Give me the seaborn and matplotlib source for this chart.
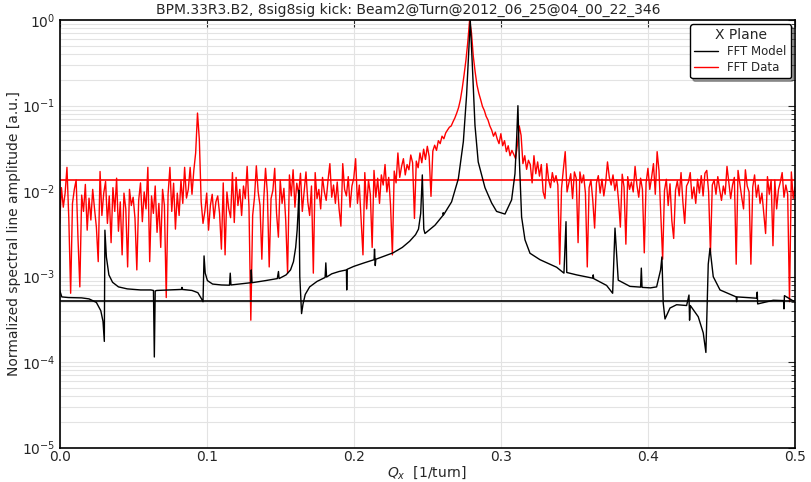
import numpy as np
import pandas as pd
import matplotlib
matplotlib.use("Agg")
import matplotlib.pyplot as plt
import seaborn as sns

title = "BPM.33R3.B2, 8sig8sig kick: Beam2@Turn@2012_06_25@04_00_22_346"
xlabel = r"$Q_x$  [1/turn]"
ylabel = "Normalized spectral line amplitude [a.u.]"
legend_title = "X Plane"
model_label = "FFT Model"
data_label = "FFT Data"

# FFT data amplitudes on a uniform tune grid (0 .. 0.5)
data_amp = [
    0.0042, 0.011, 0.0065, 0.0095, 0.019, 0.0048, 0.00064, 0.0072, 0.0105, 0.0135,
    0.0028, 0.00076, 0.009, 0.0058, 0.012, 0.0035, 0.0083, 0.0046, 0.0105, 0.0062,
    0.0038, 0.0015, 0.017, 0.0052, 0.0095, 0.013, 0.0042, 0.0088, 0.0025, 0.011,
    0.0058, 0.0142, 0.0034, 0.0075, 0.0018, 0.0095, 0.0062, 0.0013, 0.0105, 0.0068,
    # 0.05
    0.0085, 0.0048, 0.0012, 0.0078, 0.0125, 0.0044, 0.0098, 0.0062, 0.019, 0.0015,
    0.0088, 0.0055, 0.0115, 0.0033, 0.0072, 0.0022, 0.0105, 0.0068, 0.00057, 0.0092,
    0.019, 0.0058, 0.0124, 0.0036, 0.0095, 0.0052, 0.0135, 0.0072, 0.019, 0.0083,
    0.0105, 0.019, 0.0092, 0.0175, 0.028, 0.082, 0.040, 0.0075, 0.0042, 0.0058,
    # 0.10
    0.0095, 0.0035, 0.0068, 0.0092, 0.0048, 0.0075, 0.0088, 0.0055, 0.0021, 0.0125,
    0.0018, 0.0098, 0.0062, 0.0049, 0.0165, 0.0043, 0.0145, 0.0068, 0.0105, 0.0052,
    0.0115, 0.0082, 0.0195, 0.0065, 0.00031, 0.0052, 0.0085, 0.0198, 0.0098, 0.0068,
    0.0016, 0.0078, 0.0185, 0.0095, 0.0013, 0.0082, 0.0102, 0.0185, 0.0055, 0.0029,
    # 0.15
    0.0135, 0.0072, 0.0108, 0.0045, 0.0011, 0.0155, 0.0088, 0.0178, 0.0065, 0.0124,
    0.0092, 0.0162, 0.0058, 0.0098, 0.0168, 0.0075, 0.0052, 0.0115, 0.0011, 0.0165,
    0.0082, 0.0105, 0.0062, 0.0145, 0.0098, 0.0078, 0.0135, 0.021, 0.0085, 0.0118,
    0.0072, 0.0128, 0.0062, 0.0039, 0.021, 0.0105, 0.0088, 0.0148, 0.0065, 0.0115,
    # 0.20
    0.0142, 0.024, 0.0072, 0.0118, 0.0045, 0.0018, 0.0165, 0.0062, 0.0135, 0.0092,
    0.0022, 0.0175, 0.0085, 0.0142, 0.0072, 0.0155, 0.0118, 0.0205, 0.0098, 0.0145,
    0.0068, 0.0018, 0.0172, 0.0125, 0.028, 0.0145, 0.0195, 0.024, 0.0155, 0.0205,
    0.0178, 0.0265, 0.0215, 0.0048, 0.0225, 0.0188, 0.028, 0.0215, 0.031, 0.0235,
    # 0.25
    0.0335, 0.0255, 0.0087, 0.0295, 0.0345, 0.030, 0.039, 0.036, 0.044, 0.041,
    0.048, 0.052, 0.056, 0.058, 0.065, 0.072, 0.082, 0.095, 0.118, 0.16,
    0.23, 0.34, 0.55, 1.0, 0.72, 0.38, 0.25, 0.175, 0.14, 0.118,
    0.098, 0.088, 0.075, 0.068, 0.058, 0.052, 0.044, 0.049, 0.041, 0.036,
    # 0.30
    0.047, 0.034, 0.039, 0.029, 0.034, 0.026, 0.030, 0.027, 0.024, 0.035,
    0.058, 0.045, 0.021, 0.026, 0.018, 0.023, 0.0205, 0.0125, 0.026, 0.016,
    0.022, 0.015, 0.0205, 0.0098, 0.0082, 0.021, 0.0135, 0.011, 0.0165, 0.0128,
    0.0152, 0.0118, 0.0014, 0.0108, 0.018, 0.029, 0.0098, 0.0125, 0.016, 0.0082,
    # 0.35
    0.0168, 0.0142, 0.0025, 0.0168, 0.0125, 0.0155, 0.0095, 0.0013, 0.011, 0.0135,
    0.0078, 0.0037, 0.0125, 0.0152, 0.0095, 0.0138, 0.0088, 0.0125, 0.022, 0.0145,
    0.0118, 0.0155, 0.0102, 0.0135, 0.0078, 0.0038, 0.0158, 0.0112, 0.0024, 0.0148,
    0.0105, 0.0128, 0.0098, 0.0195, 0.0118, 0.0085, 0.0142, 0.0105, 0.0019, 0.0125,
    # 0.40
    0.0185, 0.0105, 0.0145, 0.021, 0.0092, 0.029, 0.0175, 0.0052, 0.0016, 0.0102,
    0.0138, 0.0068, 0.0122, 0.0045, 0.0028, 0.0103, 0.0132, 0.0088, 0.0165, 0.0075,
    0.0042, 0.0115, 0.0128, 0.0165, 0.0082, 0.0112, 0.0072, 0.0138, 0.0095, 0.0152,
    0.0088, 0.0162, 0.0175, 0.0098, 0.0019, 0.0118, 0.0135, 0.0092, 0.0148, 0.0105,
    # 0.45
    0.0078, 0.0115, 0.0092, 0.0195, 0.0128, 0.0082, 0.0118, 0.0145, 0.0014, 0.0175,
    0.0122, 0.0085, 0.0062, 0.0178, 0.0115, 0.0098, 0.0014, 0.0112, 0.0155, 0.0085,
    0.0118, 0.0072, 0.0095, 0.0055, 0.0032, 0.0148, 0.0092, 0.0135, 0.0023, 0.0135,
    0.0062, 0.0105, 0.0128, 0.0165, 0.0085, 0.0118, 0.0092, 0.00051, 0.0168, 0.0082,
    0.0112,
]
data_q = np.linspace(0.0, 0.5, len(data_amp))

# FFT model curve, read at its break points
model_q = [
    0.0, 0.0015, 0.006, 0.015, 0.020, 0.025, 0.028, 0.0295, 0.0304, 0.0308,
    0.0318, 0.0335, 0.036, 0.040, 0.046, 0.055, 0.062, 0.0638, 0.0644, 0.0650,
    0.066, 0.075, 0.083, 0.0832, 0.0834, 0.090, 0.094, 0.0965, 0.0975, 0.0982,
    0.099, 0.1005, 0.104, 0.110, 0.1155, 0.116, 0.1165, 0.125, 0.130, 0.1303,
    0.1308, 0.140, 0.148, 0.1488, 0.1492, 0.154, 0.157, 0.159, 0.1605, 0.1615,
    0.1622, 0.1627, 0.1633, 0.1645, 0.1655, 0.167, 0.170, 0.175, 0.1805, 0.181,
    0.1815, 0.185, 0.190, 0.195, 0.1952, 0.1955, 0.200, 0.207, 0.2138, 0.2141,
    0.2146, 0.2150, 0.220, 0.2267, 0.233, 0.238, 0.242, 0.244, 0.2455, 0.2466,
    0.2476, 0.2484, 0.2552, 0.2606, 0.2608, 0.2611, 0.2665, 0.2711, 0.2745, 0.2767,
    0.2783, 0.2792, 0.2806, 0.2824, 0.2846, 0.2892, 0.2937, 0.2971, 0.3028, 0.3073,
    0.3096, 0.3107, 0.3116, 0.3125, 0.3141, 0.3164, 0.3198, 0.3266, 0.3379, 0.3429,
    0.3443, 0.3448, 0.3515, 0.3626, 0.3628, 0.3631, 0.3719, 0.3760, 0.3776, 0.3798,
    0.3878, 0.3950, 0.3955, 0.3960, 0.4017, 0.4059, 0.4086, 0.4095, 0.4104, 0.4116,
    0.4150, 0.4195, 0.4263, 0.4279, 0.4283, 0.4288, 0.4342, 0.4376, 0.4394, 0.4410,
    0.4422, 0.4444, 0.4490, 0.4600, 0.4603, 0.4606, 0.4740, 0.4743, 0.4746, 0.4852,
    0.4922, 0.4925, 0.4928, 0.4988, 0.5,
]
model_amp = [
    7.0e-4, 5.8e-4, 5.7e-4, 5.65e-4, 5.5e-4, 5.0e-4, 4.0e-4, 3.0e-4, 1.75e-4, 3.5e-3,
    1.7e-3, 1.05e-3, 8.6e-4, 7.6e-4, 7.2e-4, 7.0e-4, 7.0e-4, 6.9e-4, 1.15e-4, 6.8e-4,
    6.9e-4, 7.0e-4, 7.1e-4, 7.5e-4, 7.1e-4, 6.9e-4, 6.5e-4, 5.5e-4, 5.1e-4, 1.75e-3,
    1.1e-3, 9.0e-4, 8.2e-4, 8.0e-4, 7.95e-4, 1.1e-3, 8.0e-4, 8.3e-4, 8.5e-4, 1.2e-3,
    8.5e-4, 9.0e-4, 9.5e-4, 1.15e-3, 9.5e-4, 1.05e-3, 1.2e-3, 1.5e-3, 2.2e-3, 3.5e-3,
    6.0e-3, 1.03e-2, 1.0e-3, 3.7e-4, 4.8e-4, 6.2e-4, 7.6e-4, 8.8e-4, 9.8e-4, 1.45e-3,
    9.9e-4, 1.08e-3, 1.15e-3, 1.2e-3, 7.0e-4, 1.22e-3, 1.32e-3, 1.45e-3, 1.58e-3, 2.1e-3,
    1.35e-3, 1.6e-3, 1.72e-3, 1.9e-3, 2.2e-3, 2.6e-3, 3.1e-3, 3.6e-3, 5.5e-3, 1.55e-2,
    3.6e-3, 3.2e-3, 4.0e-3, 5.2e-3, 5.6e-3, 5.3e-3, 7.5e-3, 1.4e-2, 3.8e-2, 1.33e-1,
    4.7e-1, 1.0, 3.0e-1, 5.9e-2, 2.2e-2, 1.1e-2, 7.3e-3, 5.8e-3, 5.4e-3, 7.9e-3,
    1.6e-2, 4.0e-2, 1.0e-1, 2.5e-2, 5.0e-3, 2.7e-3, 1.88e-3, 1.58e-3, 1.29e-3, 1.1e-3,
    4.4e-3, 1.12e-3, 1.05e-3, 9.6e-4, 1.05e-3, 9.5e-4, 7.9e-4, 6.4e-4, 3.7e-3, 9.1e-4,
    7.7e-4, 7.55e-4, 1.26e-3, 7.5e-4, 7.4e-4, 7.6e-4, 1.2e-3, 1.7e-3, 4.9e-4, 3.2e-4,
    4.3e-4, 4.7e-4, 4.6e-4, 6.1e-4, 3.1e-4, 4.6e-4, 3.4e-4, 2.2e-4, 1.3e-4, 1.4e-3,
    2.15e-3, 1.0e-3, 7.0e-4, 5.8e-4, 5.1e-4, 5.8e-4, 5.6e-4, 6.6e-4, 4.8e-4, 5.3e-4,
    5.25e-4, 4.2e-4, 6.0e-4, 5.2e-4, 5.2e-4,
]

data_level = 0.0136
model_level = 5.24e-4

x_ticks = [0.0, 0.1, 0.2, 0.3, 0.4, 0.5]
x_limits = (0.0, 0.5)
y_limits = (1e-5, 1.0)

sns.set_style("white")
plt.rcParams["font.family"] = ["DejaVu Sans"]

fig = plt.figure(figsize=(8.11, 4.82), dpi=100)
ax = fig.add_axes([0.0735, 0.0712, 0.9068, 0.8869])

df_data = pd.DataFrame({"q": data_q, "amp": data_amp})
df_model = pd.DataFrame({"q": model_q, "amp": model_amp})

sns.lineplot(data=df_data, x="q", y="amp", ax=ax, color="#ff0000", lw=1.0,
             estimator=None, sort=False, label=data_label, zorder=2)
sns.lineplot(data=df_model, x="q", y="amp", ax=ax, color="black", lw=1.0,
             estimator=None, sort=False, label=model_label, zorder=3)
ax.axhline(data_level, color="#ff0000", lw=1.2, zorder=2)
ax.axhline(model_level, color="black", lw=1.2, zorder=3)

ax.set_yscale("log")
ax.set_xlim(*x_limits)
ax.set_ylim(*y_limits)
ax.set_xticks(x_ticks)
ax.set_xticklabels([f"{t:.1f}" for t in x_ticks])

ax.grid(True, which="major", axis="x", color="#e3e3e3", lw=0.8)
ax.grid(True, which="both", axis="y", color="#e3e3e3", lw=0.8)
ax.set_axisbelow(True)

ax.tick_params(axis="both", which="both", direction="in", top=True, right=True,
               labelsize=10)
ax.tick_params(axis="both", which="major", length=5, width=0.8)
ax.tick_params(axis="x", which="major", pad=2)
ax.tick_params(axis="y", which="major", pad=3)
ax.tick_params(axis="y", which="minor", length=3, width=0.6)
for s in ax.spines.values():
    s.set_color("black")
    s.set_linewidth(1.2)

fig.text(0.503, 0.979, title, fontsize=10, ha="center", va="center")
ax.set_xlabel(xlabel, fontsize=10, labelpad=0)
ax.set_ylabel(ylabel, fontsize=10, labelpad=1)

handles, labels = ax.get_legend_handles_labels()
order = [labels.index(model_label), labels.index(data_label)]
leg = ax.legend([handles[i] for i in order], [labels[i] for i in order],
                title=legend_title, loc="upper right", fontsize=8.5,
                title_fontsize=10, frameon=True, fancybox=True, shadow=True,
                borderaxespad=0.35, handlelength=2.0, labelspacing=0.25,
                borderpad=0.35)
leg.get_frame().set_edgecolor("black")
leg.get_frame().set_linewidth(1.0)

fig.savefig("out.png", dpi=100)
